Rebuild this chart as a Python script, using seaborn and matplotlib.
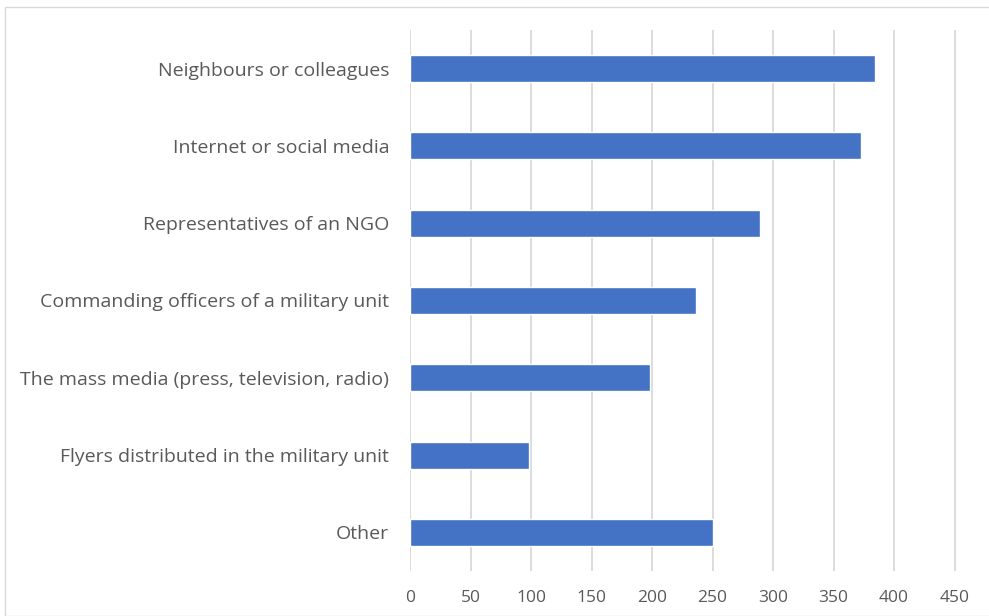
import matplotlib
matplotlib.use("Agg")
import matplotlib.pyplot as plt
import seaborn as sns
import pandas as pd
from matplotlib.patches import Rectangle

categories = [
    "Neighbours or colleagues",
    "Internet or social media",
    "Representatives of an NGO",
    "Commanding officers of a military unit",
    "The mass media (press, television, radio)",
    "Flyers distributed in the military unit",
    "Other",
]
values = [384, 373, 289, 236, 198, 98, 250]
x_ticks = [0, 50, 100, 150, 200, 250, 300, 350, 400, 450]

df = pd.DataFrame({"category": categories, "value": values})

sns.set_theme(style="white")
plt.rcParams["font.family"] = ["Open Sans", "DejaVu Sans"]

fig = plt.figure(figsize=(9.89, 6.16), dpi=100)
ax = fig.add_axes([410 / 989, 45 / 616, 547 / 989, 541 / 616])

sns.barplot(data=df, x="value", y="category", orient="h", color="#4472C4",
            width=0.35, saturation=1, ax=ax, zorder=3)

ax.set_xlim(0, 452)
ax.set_xticks(x_ticks)
ax.set_xticklabels([str(t) for t in x_ticks])
ax.grid(axis="x", color="#d9d9d9", linewidth=1.3, zorder=0)
ax.set_axisbelow(True)
for s in ax.spines.values():
    s.set_visible(False)
ax.set_xlabel("")
ax.set_ylabel("")
ax.tick_params(axis="y", length=0, pad=15, labelsize=14, labelcolor="#595959")
ax.tick_params(axis="x", length=0, pad=14, labelsize=12.5, labelcolor="#595959")

fig.patches.append(Rectangle((5 / 989, 0), 1.2, 1 - 7 / 616, transform=fig.transFigure,
                             fill=False, edgecolor="#d9d9d9", linewidth=1.0))

fig.savefig("out.png", dpi=100)
